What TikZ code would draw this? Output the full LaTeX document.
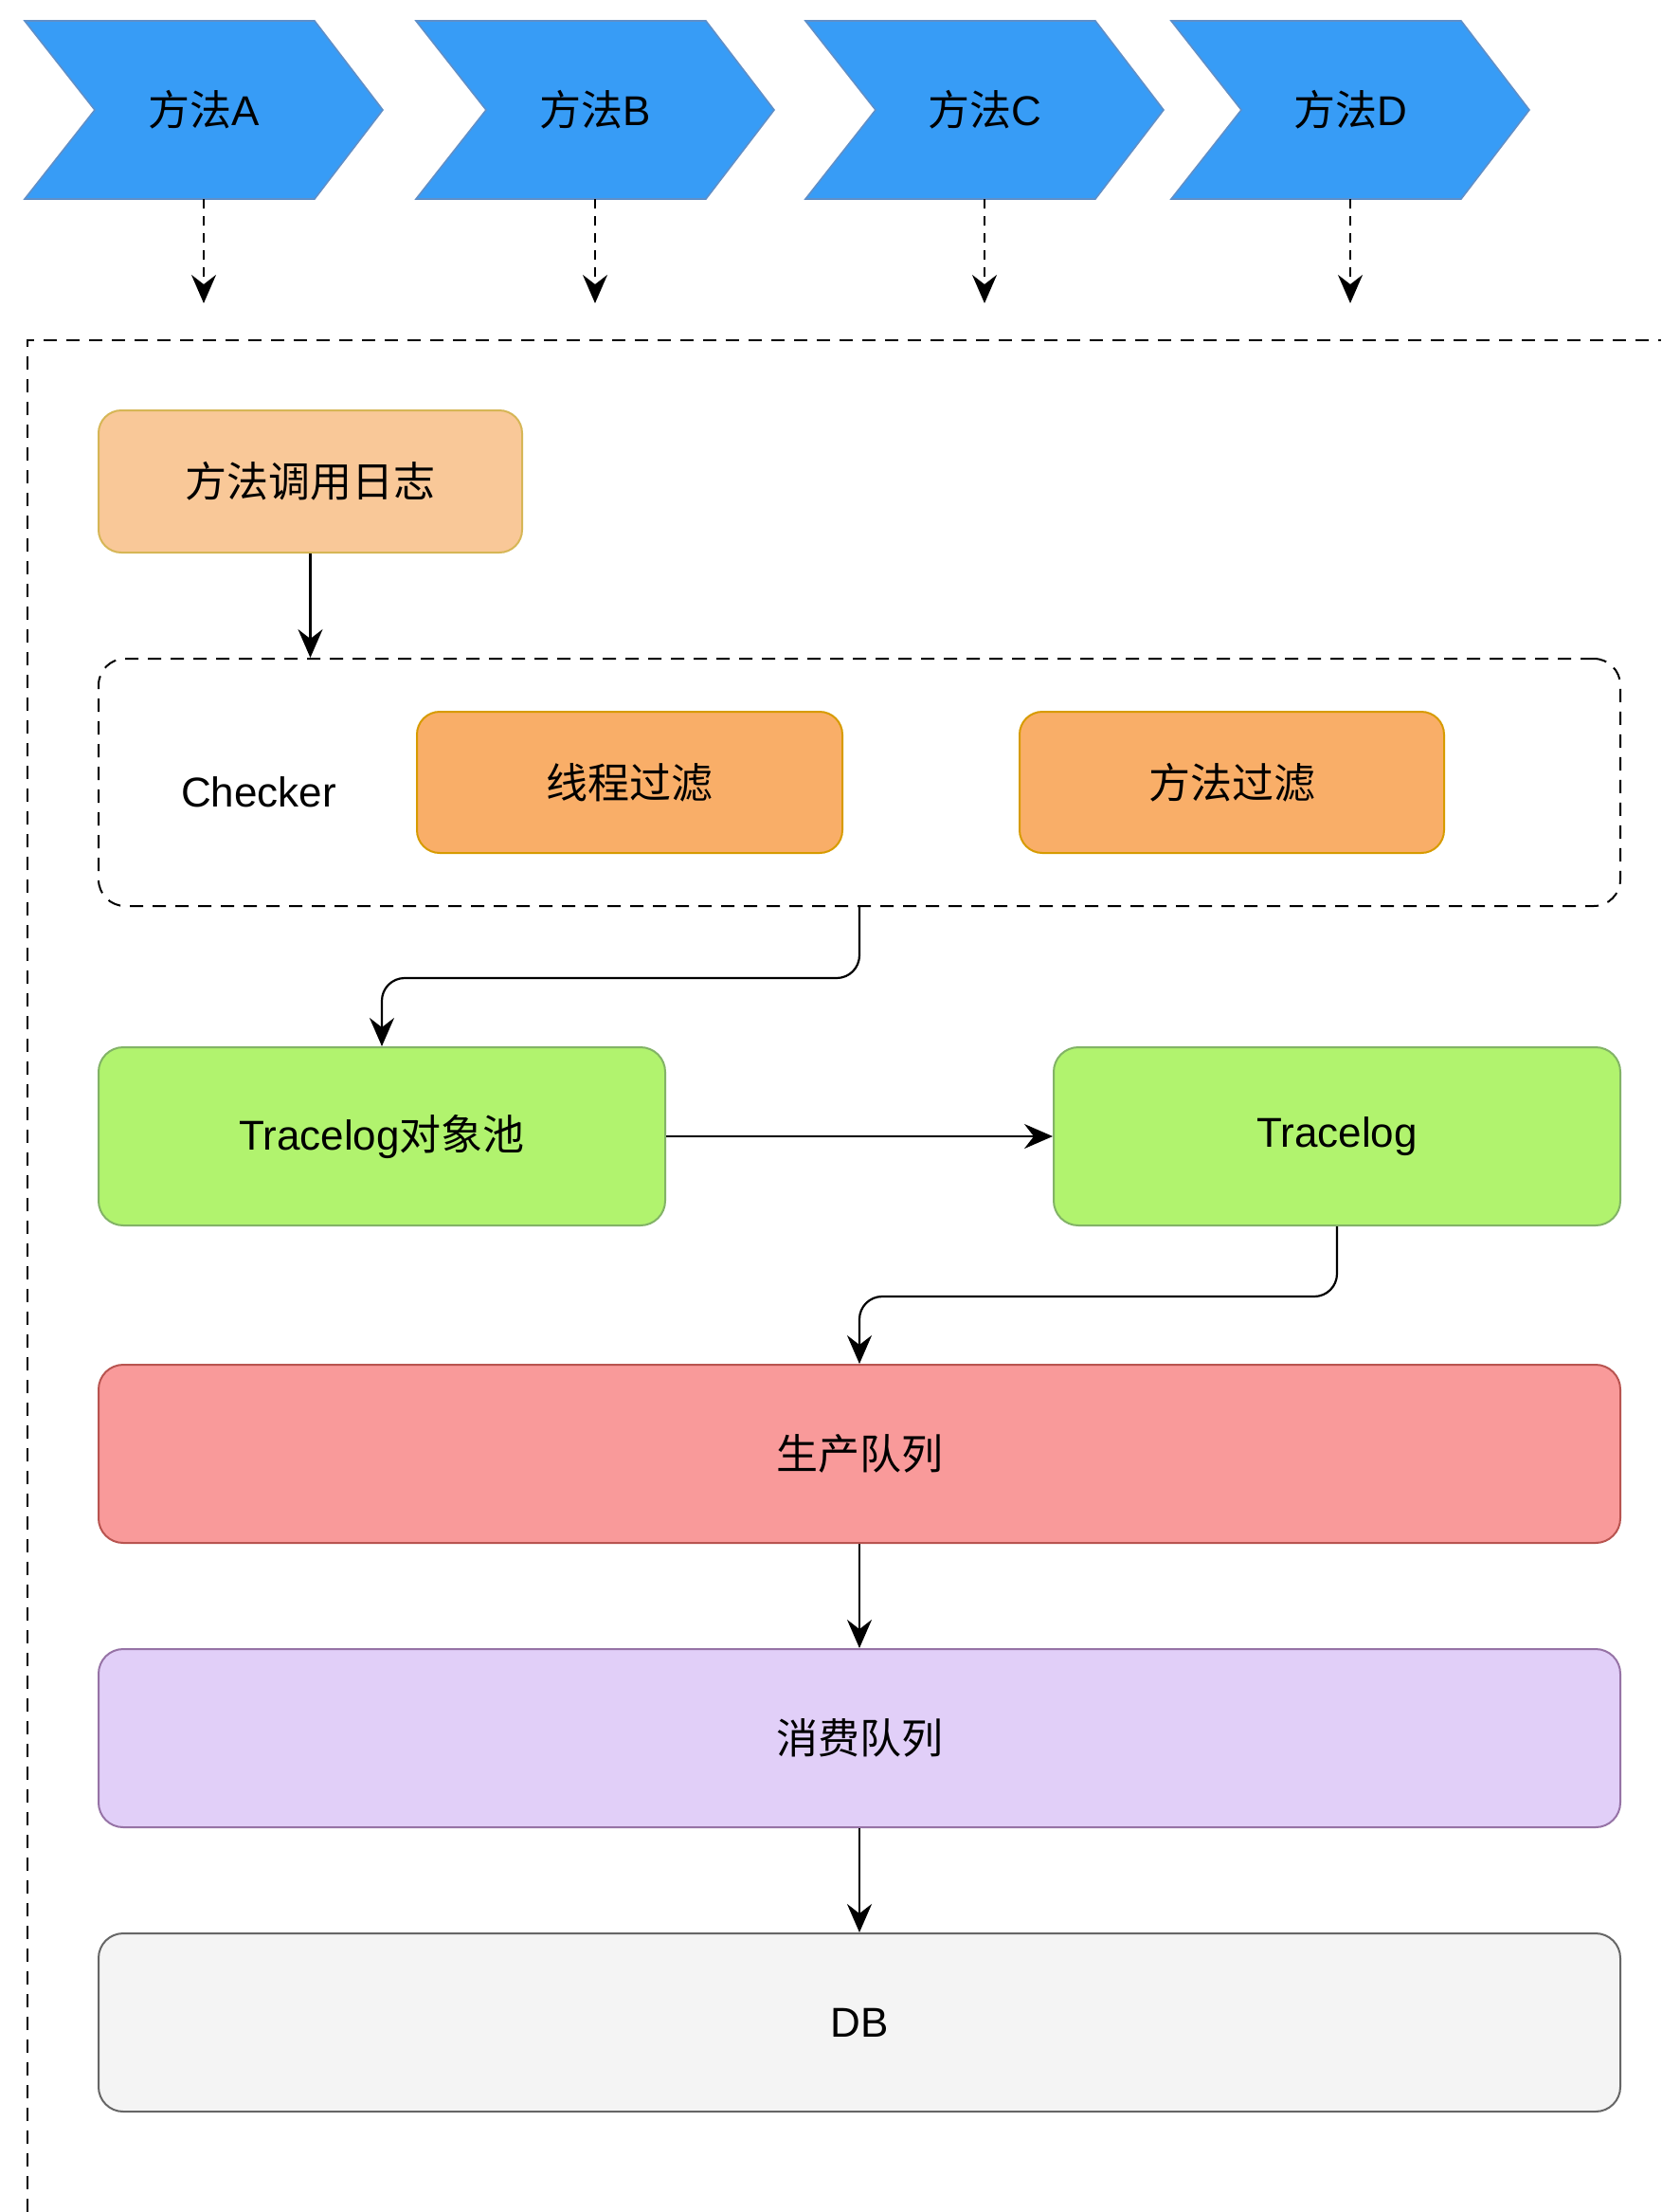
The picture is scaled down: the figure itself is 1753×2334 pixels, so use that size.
\documentclass[tikz,border=0pt]{standalone}
\usepackage{fontspec}
\setmainfont{Liberation Sans}
\newfontfamily\cjk{Noto Sans CJK SC}
\usetikzlibrary{arrows.meta,calc}
\definecolor{chevfill}{HTML}{379CF6}
\definecolor{chevline}{HTML}{5F8FC8}
\definecolor{peach}{HTML}{F9C898}
\definecolor{peachline}{HTML}{D6B656}
\definecolor{orangef}{HTML}{F9AE68}
\definecolor{orangeline}{HTML}{D79B00}
\definecolor{greenf}{HTML}{B1F36E}
\definecolor{greenline}{HTML}{82B366}
\definecolor{redf}{HTML}{F99A9A}
\definecolor{redline}{HTML}{B85450}
\definecolor{purplef}{HTML}{E1CFF8}
\definecolor{purpleline}{HTML}{9673A6}
\definecolor{greyf}{HTML}{F4F4F4}
\definecolor{greyline}{HTML}{666666}
\tikzset{
  txt/.style={font=\fontsize{22}{26}\selectfont, text=black},
  sz/.style 2 args={minimum width=#1*0.5pt, minimum height=#2*0.5pt, inner sep=0pt},
  box/.style={draw, line width=1pt, rounded corners=12pt, txt},
  chev/.style={fill=chevfill, draw=chevline, line width=0.8pt},
  conn/.style={line width=1.1pt, -{Stealth[length=15pt,width=13pt,inset=5pt]}},
  dconn/.style={conn, dash pattern=on 5pt off 4pt},
  frame/.style={line width=1pt, dash pattern=on 7pt off 5pt}
}
\begin{document}
\begin{tikzpicture}[x=0.5pt,y=-0.5pt]
\useasboundingbox (0,0) rectangle (1753,2334);

% outer dashed frame (open to the right and bottom)
\draw[frame] (29,2334) -- (29,359) -- (1753,359);

% chevrons
\foreach \L/\n/\lab in {26/A/A, 439/B/B, 850/C/C, 1236/D/D}{
  \draw[chev] (\L,22) -- ++(306,0) -- ++(72,94) -- ++(-72,94) -- ++(-306,0) -- ++(74,-94) -- cycle;
  \node[txt] (m\n) at (\L+189,116) {{\cjk 方法}\lab};
  \coordinate (m\n-s) at (\L+189,210);
  \coordinate (m\n-e) at (\L+189,320);
  \draw[dconn] (m\n-s) -- (m\n-e);
}

% boxes
\node[box, sz={447}{150}, fill=peach, draw=peachline] (log) at (327.5,508) {\cjk 方法调用日志};
\node[draw, line width=1pt, dash pattern=on 7pt off 5pt, rounded corners=14pt, sz={1606}{261}] (chk) at (907,825.5) {};
\node[txt] (chklab) at (273,836) {Checker};
\node[box, sz={449}{149}, fill=orangef, draw=orangeline] (thr) at (664.5,825.5) {\cjk 线程过滤};
\node[box, sz={448}{149}, fill=orangef, draw=orangeline] (mth) at (1300,825.5) {\cjk 方法过滤};
\node[box, rounded corners=13pt, sz={598}{188}, fill=greenf, draw=greenline] (pool) at (403,1199) {Tracelog{\cjk 对象池}};
\node[box, rounded corners=13pt, sz={598}{188}, fill=greenf, draw=greenline] (tl) at (1411,1199) {Tracelog};
\node[box, rounded corners=13pt, sz={1606}{188}, fill=redf, draw=redline] (pq) at (907,1534) {\cjk 生产队列};
\node[box, rounded corners=13pt, sz={1606}{188}, fill=purplef, draw=purpleline] (cq) at (907,1834) {\cjk 消费队列};
\node[box, rounded corners=13pt, sz={1606}{188}, fill=greyf, draw=greyline] (db) at (907,2134) {DB};

% connectors
\draw[conn] (log.south) -- (log.south |- chk.north);
\draw[conn, rounded corners=12pt] (chk.south) -- ++(0,75) -| (pool.north);
\draw[conn] (pool.east) -- (tl.west);
\draw[conn, rounded corners=12pt] (tl.south) -- ++(0,74) -| (pq.north);
\draw[conn] (pq.south) -- (cq.north);
\draw[conn] (cq.south) -- (db.north);
\end{tikzpicture}
\end{document}
